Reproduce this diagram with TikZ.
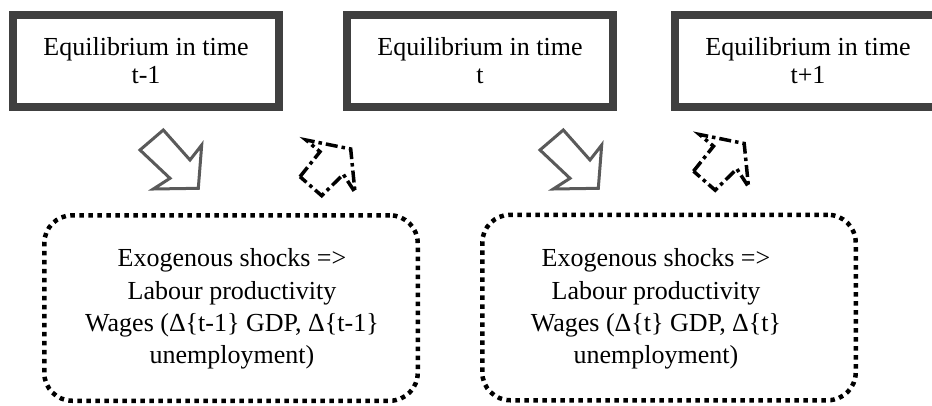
\documentclass[tikz,border=0pt]{standalone}
\usepackage{fontspec}
\setmainfont{Liberation Serif}
\definecolor{eqgray}{HTML}{404040}
\definecolor{arrgray}{HTML}{5A5A5A}
\begin{document}
\begin{tikzpicture}[x=1pt,y=-1pt,
  eqbox/.style={draw=eqgray, line width=8pt, minimum width=266pt, minimum height=92pt,
    inner sep=0pt, align=center, font=\fontsize{26}{28}\selectfont},
  shockbox/.style={draw=black, line width=4.5pt, dash pattern=on 4.5pt off 4.5pt,
    rounded corners=28pt, minimum width=373.5pt, minimum height=185.5pt, inner sep=0pt},
  shocktext/.style={align=center, inner sep=0pt, font=\fontsize{26}{32.3}\selectfont},
  grayarrow/.style={draw=arrgray, line width=3pt, line join=miter},
  dasharrow/.style={draw=black, line width=3.5pt, line join=miter,
    dash pattern=on 12pt off 4pt on 3.5pt off 4pt}]
\useasboundingbox (0,0) rectangle (932,405);
\clip (0,0) rectangle (932,405);
\fill[white] (0,0) rectangle (932,405);

\node[eqbox] (e1) at (146,61) {Equilibrium in time\\t-1};
\node[eqbox] (e2) at (480,61) {Equilibrium in time\\t};
\node[eqbox] (e3) at (808,61) {Equilibrium in time\\t+1};

\node[shockbox] (s1) at (231,308) {};
\node[shocktext] (s1t) at (232,309) {Exogenous shocks =>\\Labour productivity\\Wages (Δ\{t-1\} GDP, Δ\{t-1\}\\unemployment)};
\node[shockbox] (s2) at (669,307.5) {};
\node[shocktext] (s2t) at (656,309) {Exogenous shocks =>\\Labour productivity\\Wages (Δ\{t\} GDP, Δ\{t\}\\unemployment)};

\foreach \dx/\sx/\sy in {0/0/0, 400/393.5/-5.5} {
  \begin{scope}[shift={(\dx,0)}]
    \draw[grayarrow] (163.3,130) -- (190,160) -- (201.7,145) -- (198.3,188.3)
      -- (153.3,189) -- (170,178.3) -- (140,150) -- cycle;
  \end{scope}
  \begin{scope}[shift={(\sx,\sy)}]
    \draw[dasharrow] (300,176.7) -- (320,151.7) -- (306,140) -- (350.7,149)
      -- (355,192.3) -- (343.3,174.3) -- (321.7,195.7) -- cycle;
  \end{scope}
}
\end{tikzpicture}
\end{document}
